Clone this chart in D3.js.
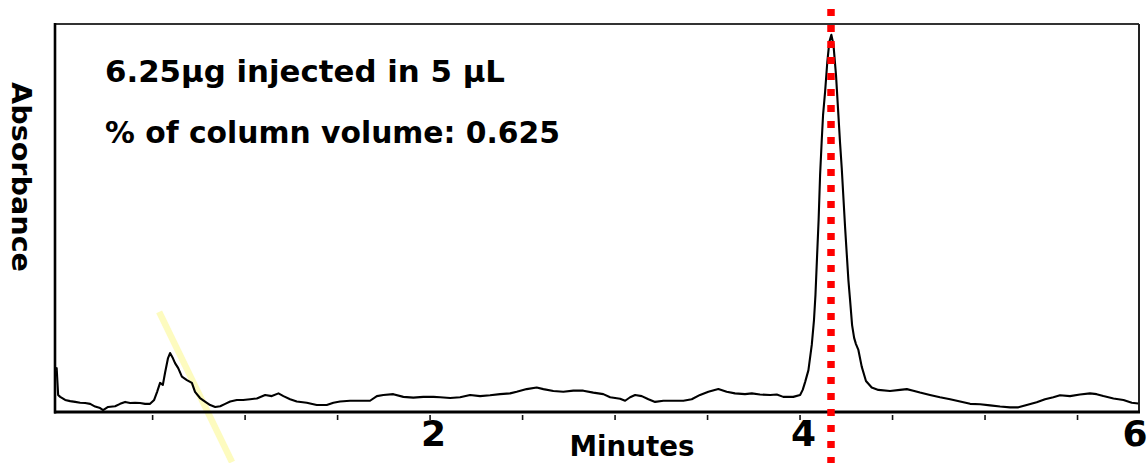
<!DOCTYPE html>
<html>
<head>
<meta charset="utf-8">
<script src="https://cdn.jsdelivr.net/npm/d3@7/dist/d3.min.js"></script>
<style>
  html, body { margin: 0; padding: 0; background: #fff; }
  svg { display: block; }
  text { font-family: "Comic Sans MS", "DejaVu Sans", sans-serif; font-weight: bold; fill: #000; }
</style>
</head>
<body>
<svg id="chart" width="1148" height="463"></svg>
<script>
// Chromatogram trace: retention time (min) and absorbance (arbitrary units)
const timeMin = [
  -0.022, -0.016, -0.008, 0.003, 0.030, 0.057, 0.084, 0.111, 0.138, 0.165,
  0.192, 0.219, 0.235, 0.262, 0.300, 0.327, 0.354, 0.381, 0.408, 0.435,
  0.462, 0.489, 0.511, 0.527, 0.543, 0.558, 0.570, 0.586, 0.597, 0.612,
  0.624, 0.641, 0.661, 0.688, 0.715, 0.732, 0.759, 0.786, 0.814, 0.841,
  0.868, 0.895, 0.922, 0.958, 0.992, 1.030, 1.066, 1.111, 1.147, 1.183,
  1.210, 1.246, 1.282, 1.336, 1.390, 1.444, 1.480, 1.516, 1.570, 1.624,
  1.678, 1.715, 1.750, 1.804, 1.858, 1.912, 1.966, 2.021, 2.057, 2.111,
  2.165, 2.219, 2.273, 2.327, 2.381, 2.435, 2.471, 2.525, 2.579, 2.615,
  2.669, 2.723, 2.777, 2.831, 2.885, 2.939, 2.976, 3.030, 3.057, 3.084,
  3.111, 3.147, 3.183, 3.219, 3.264, 3.318, 3.372, 3.417, 3.462, 3.507,
  3.561, 3.606, 3.651, 3.705, 3.742, 3.786, 3.841, 3.877, 3.912, 3.966,
  4.003, 4.017, 4.030, 4.048, 4.066, 4.078, 4.086, 4.095, 4.103, 4.111,
  4.120, 4.127, 4.138, 4.150, 4.161, 4.172, 4.183, 4.197, 4.210, 4.219,
  4.228, 4.246, 4.264, 4.273, 4.284, 4.295, 4.305, 4.318, 4.336, 4.359,
  4.390, 4.426, 4.489, 4.543, 4.580, 4.615, 4.651, 4.705, 4.759, 4.814,
  4.868, 4.922, 4.976, 5.030, 5.084, 5.138, 5.183, 5.228, 5.282, 5.327,
  5.372, 5.408, 5.462, 5.516, 5.570, 5.606, 5.642, 5.697, 5.751, 5.796,
  5.831
];
const absorbance = [
  10.8, 11.3, 4.4, 3.9, 3.1, 2.8, 2.6, 2.4, 2.3, 2.1,
  1.4, 1.0, 0.5, 1.3, 1.5, 2.1, 2.6, 2.3, 2.4, 2.3,
  2.1, 2.1, 3.1, 5.2, 7.5, 7.0, 10.1, 13.9, 15.2, 13.9,
  12.6, 11.3, 9.1, 8.2, 7.5, 5.2, 3.6, 2.7, 1.8, 1.3,
  1.5, 2.1, 2.7, 3.1, 3.1, 3.3, 3.5, 4.4, 4.1, 4.8,
  4.1, 3.3, 2.7, 2.4, 1.8, 1.8, 2.4, 2.7, 2.9, 2.9,
  2.9, 4.1, 4.4, 4.6, 3.9, 3.7, 3.9, 3.9, 3.8, 3.6,
  3.8, 4.4, 4.1, 4.3, 4.6, 4.8, 5.2, 5.9, 6.3, 5.9,
  5.4, 5.2, 5.5, 5.5, 5.0, 4.6, 3.8, 3.4, 2.9, 3.8,
  4.4, 4.1, 3.3, 2.6, 2.9, 2.9, 2.9, 3.3, 4.4, 5.2,
  5.9, 5.2, 4.8, 4.6, 4.8, 4.5, 4.4, 4.5, 3.9, 3.9,
  4.4, 5.7, 7.7, 10.8, 17.3, 23.7, 30.2, 40.5, 49.5, 61.1,
  70.1, 76.5, 82.5, 90.2, 95.4, 97.2, 94.8, 86.9, 76.5, 69.3,
  62.9, 47.7, 34.0, 28.9, 22.4, 19.1, 17.5, 16.0, 11.7, 8.0,
  6.3, 5.7, 5.4, 5.7, 5.9, 5.5, 5.0, 4.4, 3.8, 3.3,
  2.7, 2.1, 2.0, 1.7, 1.4, 1.2, 1.2, 1.8, 2.5, 3.3,
  3.8, 4.3, 4.1, 4.5, 4.8, 4.6, 4.1, 3.5, 3.1, 2.4,
  2.2
];

// Retention time of the main peak, marked with a dotted guide
const peakTime = 4.17;

// Highlighter stroke near the early peak: [time, absorbance] endpoints
const highlightStart = [0.538, 25.8];
const highlightEnd = [0.932, -12.9];

// Axis ticks
const minorTicks = [0.5, 1, 1.5, 2, 2.5, 3, 3.5, 4, 4.5, 5, 5.5];
const tickLabels = [2, 4, 6];

// Annotation texts
const noteLines = ["6.25\u03bcg injected in 5 \u03bcL", "% of column volume: 0.625"];
const xTitle = "Minutes";
const yTitle = "Absorbance";

const svg = d3.select("#chart");
const W = 1148, H = 463;
const plot = { left: 55, right: 1139, top: 24, bottom: 412 };

const x = d3.scaleLinear().domain([-0.025, 5.835]).range([plot.left, plot.right]);
const y = d3.scaleLinear().domain([0, 100]).range([plot.bottom, plot.top]);

// Highlighter stroke (drawn underneath everything)
svg.append("line")
  .attr("x1", x(highlightStart[0])).attr("y1", y(highlightStart[1]))
  .attr("x2", x(highlightEnd[0])).attr("y2", y(highlightEnd[1]))
  .attr("stroke", "#fdfbbf").attr("stroke-width", 6.5);

// Frame
svg.append("line")
  .attr("x1", plot.left).attr("x2", plot.right)
  .attr("y1", plot.top).attr("y2", plot.top)
  .attr("stroke", "#333").attr("stroke-width", 2);
svg.append("line")
  .attr("x1", plot.right).attr("x2", plot.right)
  .attr("y1", plot.top).attr("y2", plot.bottom)
  .attr("stroke", "#222").attr("stroke-width", 2);
svg.append("line")
  .attr("x1", plot.left).attr("x2", plot.left)
  .attr("y1", plot.top - 1).attr("y2", plot.bottom + 1.5)
  .attr("stroke", "#000").attr("stroke-width", 2.6);
svg.append("line")
  .attr("x1", plot.left - 1).attr("x2", plot.right + 1)
  .attr("y1", plot.bottom).attr("y2", plot.bottom)
  .attr("stroke", "#000").attr("stroke-width", 3);

// Bottom axis: small ticks only
const axis = svg.append("g")
  .attr("transform", `translate(0,${plot.bottom + 3})`)
  .call(d3.axisBottom(x).tickValues(minorTicks).tickSize(5).tickFormat(""));
axis.select(".domain").remove();
axis.selectAll(".tick line").attr("stroke", "#111").attr("stroke-width", 1.6);

// Tick labels (the last one sits at the right edge of the frame)
svg.selectAll("text.tick-label")
  .data(tickLabels)
  .join("text")
  .attr("class", "tick-label")
  .attr("x", d => Math.min(x(d) + 4, plot.right - 4))
  .attr("y", 446)
  .attr("text-anchor", "middle")
  .attr("font-size", 36)
  .text(d => d);

// Trace
const points = timeMin.map((t, i) => [t, absorbance[i]]);
svg.append("path")
  .datum(points)
  .attr("fill", "none")
  .attr("stroke", "#000")
  .attr("stroke-width", 2.1)
  .attr("stroke-linejoin", "round")
  .attr("d", d3.line().x(d => x(d[0])).y(d => y(d[1])));

// Dotted peak marker spanning the full height
svg.append("line")
  .attr("x1", x(peakTime)).attr("x2", x(peakTime))
  .attr("y1", 9).attr("y2", H)
  .attr("stroke", "#ff0000")
  .attr("stroke-width", 7.5)
  .attr("stroke-dasharray", "7 9");

// Annotation texts
const noteWidths = [400, 455];
svg.selectAll("text.note")
  .data(noteLines)
  .join("text")
  .attr("class", "note")
  .attr("x", 105)
  .attr("y", (d, i) => 82 + i * 61)
  .attr("font-size", 30)
  .attr("textLength", (d, i) => noteWidths[i])
  .attr("lengthAdjust", "spacingAndGlyphs")
  .text(d => d);

// Axis titles
svg.append("text")
  .attr("x", 632).attr("y", 456)
  .attr("text-anchor", "middle")
  .attr("font-size", 29)
  .attr("textLength", 125)
  .attr("lengthAdjust", "spacingAndGlyphs")
  .text(xTitle);

svg.append("text")
  .attr("transform", "translate(12,177) rotate(90)")
  .attr("text-anchor", "middle")
  .attr("font-size", 27)
  .attr("textLength", 190)
  .attr("lengthAdjust", "spacingAndGlyphs")
  .text(yTitle);
</script>
</body>
</html>
